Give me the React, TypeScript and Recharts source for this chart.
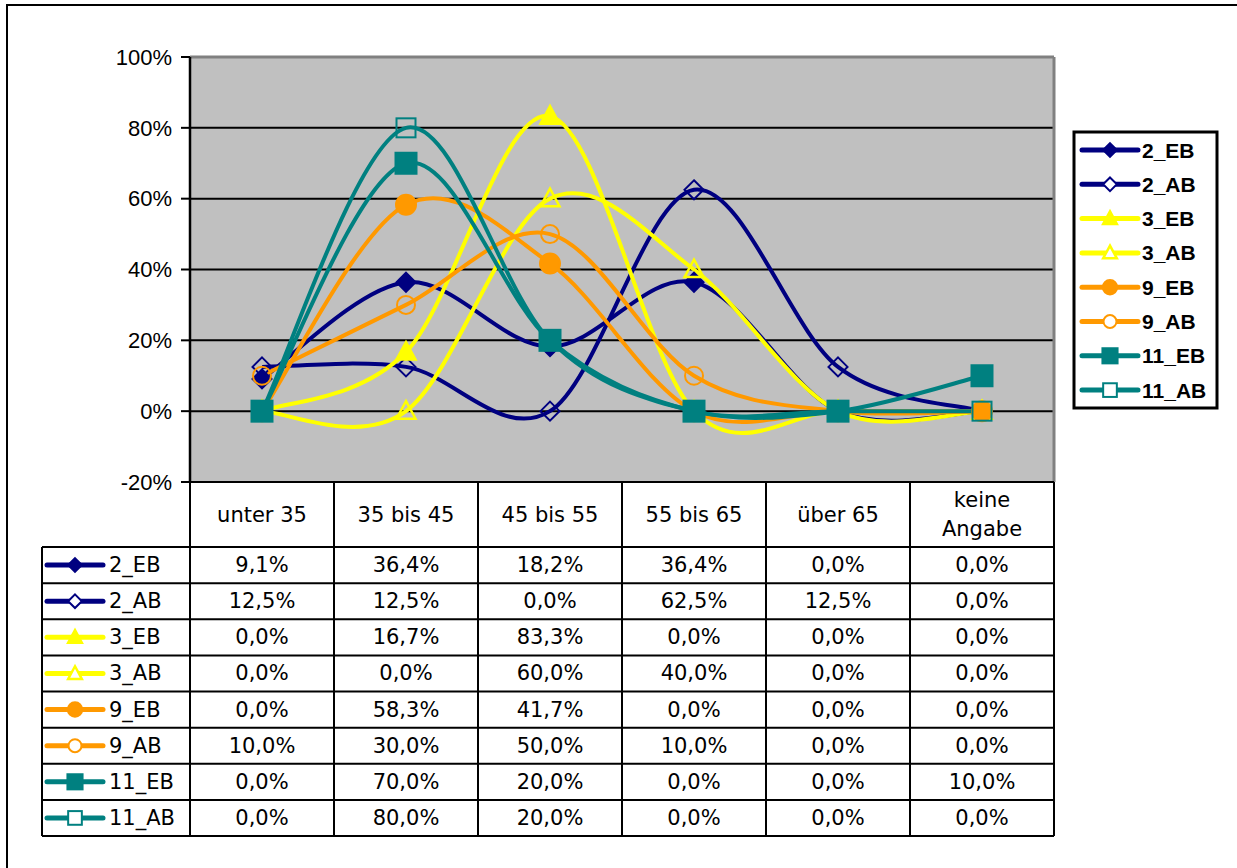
import React from 'react';
import { LineChart, Line, XAxis, YAxis, CartesianGrid, ReferenceLine } from 'recharts';

// categories and header labels (the last one is split over two lines)
const categories = ['unter 35', '35 bis 45', '45 bis 55', '55 bis 65', 'über 65', 'keine Angabe'];
const headerLines = [['unter 35'], ['35 bis 45'], ['45 bis 55'], ['55 bis 65'], ['über 65'], ['keine', 'Angabe']];

// shares in percent, one array per series
const v2EB = [9.1, 36.4, 18.2, 36.4, 0, 0];
const v2AB = [12.5, 12.5, 0, 62.5, 12.5, 0];
const v3EB = [0, 16.7, 83.3, 0, 0, 0];
const v3AB = [0, 0, 60, 40, 0, 0];
const v9EB = [0, 58.3, 41.7, 0, 0, 0];
const v9AB = [10, 30, 50, 10, 0, 0];
const v11EB = [0, 70, 20, 0, 0, 10];
const v11AB = [0, 80, 20, 0, 0, 0];

const seriesNames = ['2_EB', '2_AB', '3_EB', '3_AB', '9_EB', '9_AB', '11_EB', '11_AB'];
const seriesValues = [v2EB, v2AB, v3EB, v3AB, v9EB, v9AB, v11EB, v11AB];

const yTicks = [-20, 0, 20, 40, 60, 80, 100];

type MarkerKind = 'diamond' | 'triangle' | 'circle' | 'square';

const seriesStyles: { color: string; kind: MarkerKind; filled: boolean }[] = [
  { color: '#000080', kind: 'diamond', filled: true },
  { color: '#000080', kind: 'diamond', filled: false },
  { color: '#FFFF00', kind: 'triangle', filled: true },
  { color: '#FFFF00', kind: 'triangle', filled: false },
  { color: '#FF9900', kind: 'circle', filled: true },
  { color: '#FF9900', kind: 'circle', filled: false },
  { color: '#008080', kind: 'square', filled: true },
  { color: '#008080', kind: 'square', filled: false },
];

const data = categories.map((cat, i) => {
  const row: Record<string, number | string> = { idx: i, cat };
  seriesNames.forEach((name, s) => {
    row[name] = seriesValues[s][i];
  });
  return row;
});

// layout
const W = 1237;
const H = 868;
const PLOT_L = 190;
const PLOT_R = 1054;
const PLOT_T = 57;
const PLOT_B = 482;
const COL_W = (PLOT_R - PLOT_L) / categories.length;
const TABLE_L = 42;
const HEADER_B = 547;
const TABLE_B = 836;
const ROW_H = (TABLE_B - HEADER_B) / seriesNames.length;

const tableFont = '"DejaVu Sans", Verdana, sans-serif';
const arialFont = '"Liberation Sans", Arial, sans-serif';

const fmt = (v: number) => v.toFixed(1).replace('.', ',') + '%';

// Excel-like smoothed line (Catmull-Rom as cubic bezier)
const excelCurve: any = (context: any) => {
  let pts: number[][] = [];
  return {
    areaStart() {},
    areaEnd() {},
    lineStart() {
      pts = [];
    },
    point(x: number, y: number) {
      pts.push([+x, +y]);
    },
    lineEnd() {
      const n = pts.length;
      if (!n) return;
      context.moveTo(pts[0][0], pts[0][1]);
      for (let i = 0; i < n - 1; i++) {
        const p0 = pts[i - 1] || pts[i];
        const p1 = pts[i];
        const p2 = pts[i + 1];
        const p3 = pts[i + 2] || p2;
        context.bezierCurveTo(
          p1[0] + (p2[0] - p0[0]) / 6,
          p1[1] + (p2[1] - p0[1]) / 6,
          p2[0] - (p3[0] - p1[0]) / 6,
          p2[1] - (p3[1] - p1[1]) / 6,
          p2[0],
          p2[1]
        );
      }
    },
  };
};

function Marker({
  kind,
  filled,
  color,
  cx,
  cy,
  scale = 1,
  hollowFill = 'none',
}: {
  kind: MarkerKind;
  filled: boolean;
  color: string;
  cx: number;
  cy: number;
  scale?: number;
  hollowFill?: string;
}) {
  const fill = filled ? color : hollowFill;
  const sw = 2;
  if (kind === 'diamond') {
    const s = 9.5 * scale;
    return (
      <polygon
        points={`${cx},${cy - s} ${cx + s},${cy} ${cx},${cy + s} ${cx - s},${cy}`}
        fill={fill}
        stroke={color}
        strokeWidth={sw}
      />
    );
  }
  if (kind === 'triangle') {
    const s = 9.5 * scale;
    return (
      <polygon
        points={`${cx},${cy - s * 1.05} ${cx + s},${cy + s * 0.8} ${cx - s},${cy + s * 0.8}`}
        fill={fill}
        stroke={color}
        strokeWidth={sw + 0.5}
      />
    );
  }
  if (kind === 'circle') {
    const r = (filled ? 10 : 9) * scale;
    return <circle cx={cx} cy={cy} r={r} fill={fill} stroke={color} strokeWidth={sw} />;
  }
  const s = (filled ? 10.5 : 9.5) * scale;
  return (
    <rect x={cx - s} y={cy - s} width={s * 2} height={s * 2} fill={fill} stroke={color} strokeWidth={sw} />
  );
}

function KeyIcon({ s, x, y, len = 56 }: { s: number; x: number; y: number; len?: number }) {
  const st = seriesStyles[s];
  return (
    <g>
      <line x1={x} y1={y} x2={x + len} y2={y} stroke={st.color} strokeWidth={5} strokeLinecap="round" />
      <Marker kind={st.kind} filled={st.filled} color={st.color} cx={x + len / 2} cy={y} scale={0.72} hollowFill="#fff" />
    </g>
  );
}

function Overlay() {
  const colXs = Array.from({ length: categories.length + 1 }, (_, i) => PLOT_L + i * COL_W);
  const rowYs = Array.from({ length: seriesNames.length + 1 }, (_, i) => HEADER_B + i * ROW_H);
  const legendTop = 132;
  const legendStep = 34.3;
  return (
    <svg width={W} height={H} style={{ position: 'absolute', left: 0, top: 0, pointerEvents: 'none' }}>
      {/* outer frame (top and left edges visible) */}
      <line x1={6} y1={5} x2={W} y2={5} stroke="#000" strokeWidth={2} />
      <line x1={7} y1={5} x2={7} y2={H} stroke="#000" strokeWidth={2} />

      {/* data table grid */}
      <g stroke="#000" strokeWidth={2}>
        <line x1={PLOT_L} y1={PLOT_B} x2={PLOT_R} y2={PLOT_B} />
        {rowYs.map((y, i) => (
          <line key={'r' + i} x1={TABLE_L} y1={y} x2={PLOT_R} y2={y} />
        ))}
        {colXs.map((x, i) => (
          <line key={'c' + i} x1={x} y1={PLOT_B} x2={x} y2={TABLE_B} />
        ))}
        <line x1={TABLE_L} y1={HEADER_B} x2={TABLE_L} y2={TABLE_B} />
      </g>

      {/* header labels */}
      <g fontFamily={tableFont} fontSize={21} fill="#000" textAnchor="middle">
        {headerLines.map((lines, i) => {
          const cx = PLOT_L + (i + 0.5) * COL_W;
          const mid = (PLOT_B + HEADER_B) / 2;
          return lines.map((t, k) => (
            <text key={`h${i}-${k}`} x={cx} y={mid + (k - (lines.length - 1) / 2) * 29} dominantBaseline="central">
              {t}
            </text>
          ));
        })}
      </g>

      {/* rows */}
      {seriesNames.map((name, s) => {
        const cy = HEADER_B + (s + 0.5) * ROW_H;
        return (
          <g key={name}>
            <KeyIcon s={s} x={47} y={cy} />
            <text x={109} y={cy} fontFamily={tableFont} fontSize={21} dominantBaseline="central" fill="#000">
              {name}
            </text>
            {seriesValues[s].map((v, i) => (
              <text
                key={i}
                x={PLOT_L + (i + 0.5) * COL_W}
                y={cy}
                fontFamily={tableFont}
                fontSize={21}
                textAnchor="middle"
                dominantBaseline="central"
                fill="#000"
              >
                {fmt(v)}
              </text>
            ))}
          </g>
        );
      })}

      {/* legend */}
      <rect x={1074} y={legendTop} width={143} height={276} fill="#fff" stroke="#000" strokeWidth={3} />
      {seriesNames.map((name, s) => {
        const cy = legendTop + 18 + s * legendStep;
        return (
          <g key={'lg' + name}>
            <KeyIcon s={s} x={1082} y={cy} />
            <text x={1142} y={cy} fontFamily={arialFont} fontWeight="bold" fontSize={21} dominantBaseline="central" fill="#000">
              {name}
            </text>
          </g>
        );
      })}
    </svg>
  );
}

export default function App() {
  return (
    <div style={{ position: 'absolute', left: 0, top: 0, width: W, height: H, background: '#fff' }}>
      <LineChart
        width={W}
        height={H}
        data={data}
        margin={{ top: PLOT_T, right: W - PLOT_R, bottom: H - PLOT_B, left: 0 }}
      >
        <CartesianGrid vertical={false} stroke="#000" strokeWidth={2} fill="#C0C0C0" fillOpacity={1} />
        <XAxis dataKey="idx" type="number" domain={[-0.5, categories.length - 0.5]} hide />
        <YAxis
          width={PLOT_L}
          domain={[-20, 100]}
          ticks={yTicks}
          interval={0}
          tickFormatter={(v: number) => `${v}%`}
          axisLine={{ stroke: '#000', strokeWidth: 2.5 }}
          tickLine={{ stroke: '#000', strokeWidth: 2 }}
          tickSize={9}
          tickMargin={9}
          tick={{ fill: '#000', fontSize: 22, fontFamily: arialFont }}
        />
        <ReferenceLine y={100} stroke="#808080" strokeWidth={3} />
        <ReferenceLine x={categories.length - 0.5} stroke="#808080" strokeWidth={3} />
        {seriesNames.map((name, s) => {
          const st = seriesStyles[s];
          return (
            <Line
              key={name}
              dataKey={name}
              type={excelCurve}
              stroke={st.color}
              strokeWidth={4}
              isAnimationActive={false}
              activeDot={false}
              dot={(p: any) => (
                <Marker key={`${name}-${p.index}`} kind={st.kind} filled={st.filled} color={st.color} cx={p.cx} cy={p.cy} />
              )}
            />
          );
        })}
      </LineChart>
      <Overlay />
    </div>
  );
}
